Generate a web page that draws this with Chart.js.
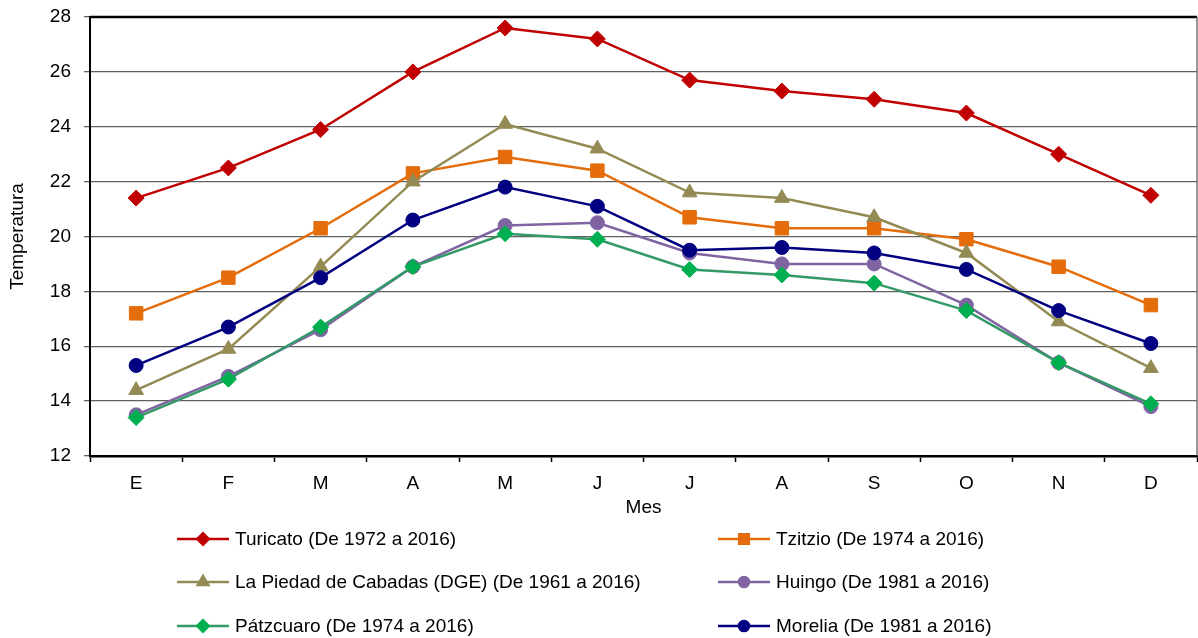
<!DOCTYPE html>
<html>
<head>
<meta charset="utf-8">
<script src="https://cdn.jsdelivr.net/npm/chart.js@4"></script>
<style>
  html, body { margin: 0; padding: 0; background: #fff; overflow: hidden; }
  #wrap { width: 1198px; height: 638px; }
  canvas { display: block; }
</style>
</head>
<body>
<div id="wrap"><canvas id="tempChart" width="1198" height="638"></canvas></div>
<script>
const months = ["E", "F", "M", "A", "M", "J", "J", "A", "S", "O", "N", "D"];
const yTicks = [12, 14, 16, 18, 20, 22, 24, 26, 28];

const turicato = [21.4, 22.5, 23.9, 26.0, 27.6, 27.2, 25.7, 25.3, 25.0, 24.5, 23.0, 21.5];
const tzitzio = [17.2, 18.5, 20.3, 22.3, 22.9, 22.4, 20.7, 20.3, 20.3, 19.9, 18.9, 17.5];
const laPiedad = [14.4, 15.9, 18.9, 22.0, 24.1, 23.2, 21.6, 21.4, 20.7, 19.4, 16.9, 15.2];
const huingo = [13.5, 14.9, 16.6, 18.9, 20.4, 20.5, 19.4, 19.0, 19.0, 17.5, 15.4, 13.8];
const patzcuaro = [13.4, 14.8, 16.7, 18.9, 20.1, 19.9, 18.8, 18.6, 18.3, 17.3, 15.4, 13.9];
const morelia = [15.3, 16.7, 18.5, 20.6, 21.8, 21.1, 19.5, 19.6, 19.4, 18.8, 17.3, 16.1];

const FONT = "'Liberation Sans', Arial, sans-serif";
const FSIZE = 19;

function series(label, data, line, marker, style, radius, idx) {
    return {
        label: label,
        data: data,
        borderColor: line,
        backgroundColor: marker,
        pointBackgroundColor: marker,
        pointBorderColor: marker,
        pointBorderWidth: 1,
        pointStyle: style,
        pointRadius: radius,
        pointHoverRadius: radius,
        borderWidth: 2.5,
        tension: 0,
        fill: false,
        order: 10 - idx,
        legendRadius: radius * 0.72
    };
}

const datasets = [
    series("Turicato (De 1972 a 2016)", turicato, "#C00000", "#C00000", "rectRot", 8, 0),
    series("Tzitzio (De 1974 a 2016)", tzitzio, "#E46C0A", "#E46C0A", "rect", 9.5, 1),
    series("La Piedad de Cabadas (DGE) (De 1961 a 2016)", laPiedad, "#948A54", "#948A54", "triangle", 8.5, 2),
    series("Huingo (De 1981 a 2016)", huingo, "#8064A2", "#8064A2", "circle", 7, 3),
    series("Pátzcuaro (De 1974 a 2016)", patzcuaro, "#339966", "#00B050", "rectRot", 8, 4),
    series("Morelia (De 1981 a 2016)", morelia, "#000080", "#000080", "circle", 7, 5)
];

// legend in two columns under the axis, like the original
const sideLegend = {
    id: "sideLegend",
    afterDraw(chart) {
        const ctx = chart.ctx;
        const cols = [177, 718];
        const rows = [539, 582, 626];
        ctx.save();
        chart.data.datasets.forEach((ds, i) => {
            const x = cols[i % 2];
            const y = rows[Math.floor(i / 2)];
            ctx.strokeStyle = ds.borderColor;
            ctx.lineWidth = 2.5;
            ctx.beginPath();
            ctx.moveTo(x, y);
            ctx.lineTo(x + 52, y);
            ctx.stroke();
            ctx.fillStyle = ds.pointBackgroundColor;
            ctx.strokeStyle = ds.pointBorderColor;
            Chart.helpers.drawPoint(ctx, {
                pointStyle: ds.pointStyle,
                radius: ds.legendRadius,
                rotation: 0,
                borderWidth: 1
            }, x + 26, y);
            ctx.fillStyle = "#000";
            ctx.font = FSIZE + "px " + FONT;
            ctx.textBaseline = "middle";
            ctx.textAlign = "left";
            ctx.fillText(ds.label, x + 58, y + 1);
        });
        // plot frame: black top, thin grey right side
        const a = chart.chartArea;
        ctx.strokeStyle = "#000";
        ctx.lineWidth = 2.5;
        ctx.beginPath();
        ctx.moveTo(a.left, a.top);
        ctx.lineTo(a.right, a.top);
        ctx.stroke();
        ctx.strokeStyle = "#606060";
        ctx.lineWidth = 1.3;
        ctx.beginPath();
        ctx.moveTo(a.right, a.top);
        ctx.lineTo(a.right, a.bottom);
        ctx.stroke();
        ctx.restore();
    }
};

new Chart(document.getElementById("tempChart"), {
    type: "line",
    data: { labels: months, datasets: datasets },
    plugins: [sideLegend],
    options: {
        responsive: false,
        animation: false,
        events: [],
        layout: {
            autoPadding: false,
            padding: { left: 0, top: 17, right: 1, bottom: 119 }
        },
        plugins: {
            legend: { display: false },
            tooltip: { enabled: false }
        },
        scales: {
            x: {
                offset: true,
                afterFit(scale) {
                    scale.height = 63;
                    scale.paddingLeft = 0;
                    scale.paddingRight = 0;
                },
                grid: {
                    display: true,
                    drawOnChartArea: false,
                    offset: true,
                    color: "#000",
                    tickLength: 6,
                    tickWidth: 1.5
                },
                border: { color: "#000", width: 2.5 },
                ticks: {
                    color: "#000",
                    font: { family: FONT, size: FSIZE },
                    padding: 10,
                    maxRotation: 0,
                    autoSkip: false
                },
                title: {
                    display: true,
                    text: "Mes",
                    color: "#000",
                    font: { family: FONT, size: FSIZE },
                    padding: 0
                }
            },
            y: {
                min: yTicks[0],
                max: yTicks[yTicks.length - 1],
                afterFit(scale) {
                    scale.width = 90;
                    scale.paddingTop = 0;
                    scale.paddingBottom = 0;
                },
                afterBuildTicks(scale) {
                    scale.ticks = yTicks.map(v => ({ value: v }));
                },
                grid: {
                    color: "#606060",
                    lineWidth: 1.3,
                    tickLength: 6,
                    tickColor: "#606060"
                },
                border: { color: "#000", width: 2 },
                ticks: {
                    color: "#000",
                    font: { family: FONT, size: FSIZE },
                    padding: 13
                },
                title: {
                    display: true,
                    text: "Temperatura",
                    color: "#000",
                    font: { family: FONT, size: FSIZE },
                    padding: { top: 6, bottom: 0 }
                }
            }
        }
    }
});
</script>
</body>
</html>
